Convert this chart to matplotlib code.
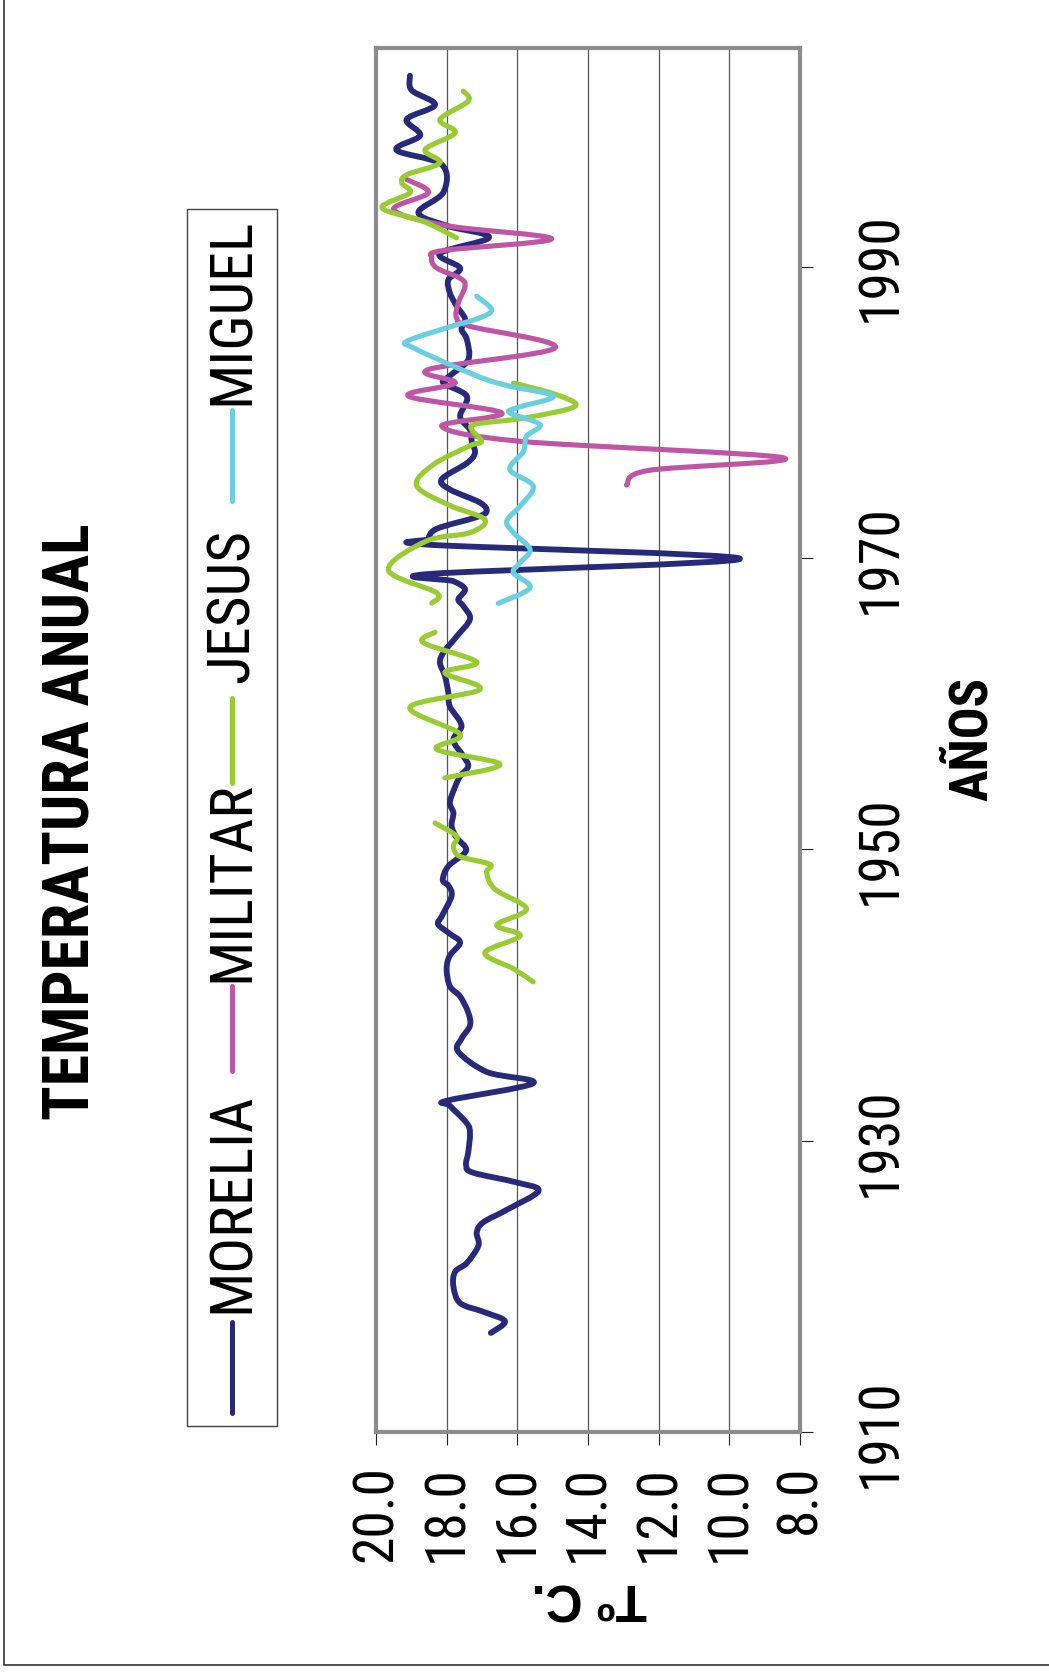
import sys
import numpy as np
import matplotlib
matplotlib.use("Agg")
import matplotlib.pyplot as plt
from matplotlib import font_manager
from matplotlib.font_manager import FontProperties
from matplotlib.path import Path
from matplotlib.patches import PathPatch, Rectangle
from matplotlib.lines import Line2D

# series: (year, temperature) read per station
morelia_year = [1916.8, 1917.6, 1918.25, 1918.85, 1920.0, 1921.0, 1921.6, 1922.8, 1923.7, 1924.4,
                1925.25, 1926.55, 1927.13, 1927.8, 1928.3, 1929.2, 1930.5, 1931.2, 1932.4, 1932.75,
                1933.94, 1934.7, 1936.1, 1937.0, 1937.9, 1938.8, 1939.9, 1940.6, 1941.8, 1942.7,
                1943.6, 1944.2, 1944.85, 1945.4, 1946.8, 1947.5, 1947.9, 1948.85, 1949.9, 1950.8,
                1951.6, 1952.5, 1953.2, 1954.3, 1955.0, 1955.7, 1956.4, 1957.5, 1958.5, 1959.8,
                1960.7, 1961.9, 1962.8, 1963.5, 1964.6, 1965.8, 1966.7, 1967.15, 1967.85, 1968.4,
                1968.9, 1969.94, 1970.9, 1971.3, 1972.0, 1972.8, 1973.2, 1973.8, 1974.7, 1975.4,
                1976.5, 1977.2, 1978.0, 1978.8, 1979.7, 1981.1, 1982.0, 1982.5, 1983.6, 1985.0,
                1985.7, 1986.4, 1987.3, 1988.2, 1989.1, 1989.9, 1990.9, 1992.0, 1992.8, 1993.7,
                1995.1, 1997.0, 1998.0, 1999.0, 2000.1, 2001.1, 2002.1, 2003.1]
morelia_temp = [16.75, 16.35, 16.96, 17.62, 17.81, 17.76, 17.43, 17.10, 17.15, 16.96,
                16.30, 15.40, 16.02, 17.25, 17.45, 17.39, 17.34, 17.43, 17.91, 17.98,
                15.55, 16.85, 17.67, 17.58, 17.34, 17.39, 17.62, 17.91, 18.00, 17.91,
                17.62, 17.91, 18.24, 18.14, 17.86, 17.95, 18.11, 17.95, 17.45, 17.72,
                17.86, 17.81, 17.91, 17.76, 17.62, 17.39, 17.53, 17.81, 17.58, 17.91,
                17.95, 18.05, 18.19, 18.09, 17.72, 17.34, 17.53, 17.67, 17.48, 17.81,
                18.47, 9.70, 18.47, 18.52, 18.28, 17.15, 16.87, 17.06, 17.91, 18.14,
                17.43, 17.20, 17.29, 17.34, 17.62, 17.43, 18.09, 17.91, 17.39, 17.43,
                17.58, 17.48, 17.72, 17.91, 17.95, 17.62, 18.19, 16.80, 18.00, 18.80,
                18.09, 18.14, 19.42, 18.75, 19.13, 18.33, 18.99, 19.04]

militar_year = [1975.0, 1976.0, 1976.87, 1978.0, 1979.04, 1979.95, 1981.1, 1982.0, 1982.93, 1984.42,
                1985.9, 1986.48, 1987.5, 1988.65, 1989.2, 1989.9, 1990.6, 1991.1, 1991.9, 1992.8,
                1993.9, 1995.06, 1995.97]
militar_temp = [12.91, 12.30, 8.47, 15.90, 18.14, 16.44, 19.08, 17.76, 18.52, 14.93,
                17.34, 17.72, 17.67, 17.48, 17.62, 18.28, 18.42, 18.10, 15.03, 18.00,
                19.50, 18.52, 19.13]

# Jesus has gaps, so it is kept as separate runs
jesus_year = [
    [1940.9, 1941.8, 1942.9, 1944.06, 1944.8, 1945.9, 1947.25, 1948.4, 1948.96, 1949.5,
     1950.2, 1950.9, 1951.8],
    [1954.9, 1955.83, 1956.86, 1957.89, 1959.75, 1960.97, 1962.12, 1962.85, 1964.18, 1964.9],
    [1966.9, 1967.6, 1969.17, 1971.16, 1971.73, 1972.64, 1973.6, 1974.95, 1976.4, 1977.7,
     1978.0, 1978.8, 1979.2, 1979.6, 1980.4, 1981.2, 1982.0],
    [1991.97, 1993.1, 1994.03, 1995.06, 1995.74, 1996.3, 1997.12, 1998.03, 1999.18, 2000.09,
     2001.35, 2002.04],
]
jesus_temp = [
    [15.55, 16.11, 16.92, 15.92, 16.58, 15.74, 16.63, 16.87, 16.77, 17.62,
     17.81, 17.72, 18.33],
    [18.05, 16.49, 18.28, 17.62, 19.04, 17.06, 18.05, 17.15, 18.66, 18.33],
    [18.42, 18.28, 19.65, 18.57, 17.34, 16.92, 17.91, 18.85, 18.38, 17.34,
     17.01, 17.29, 17.15, 15.80, 14.37, 14.89, 16.11],
    [17.72, 18.66, 19.83, 19.04, 19.27, 19.13, 18.19, 18.61, 17.76, 18.19,
     17.39, 17.53],
]

miguel_year = [1966.88, 1967.95, 1968.98, 1969.67, 1970.58, 1971.73, 1972.53, 1973.56, 1974.93, 1976.06,
               1977.3, 1978.35, 1979.15, 1979.95, 1980.3, 1981.1, 1981.78, 1982.24, 1983.16, 1984.42,
               1984.87, 1985.79, 1986.48, 1987.05, 1987.96]
miguel_temp = [16.54, 15.64, 16.11, 15.92, 15.64, 16.11, 16.30, 15.92, 15.55, 16.21,
               15.83, 15.74, 15.36, 16.21, 16.02, 14.98, 16.21, 16.87, 17.81, 18.94,
               19.13, 18.00, 17.06, 16.73, 17.15]

names = ["MORELIA", "MILITAR", "JESUS", "MIGUEL"]
colors = ["#262a78", "#bf55a5", "#99cc33", "#6ccfe0"]
temp_ticks = [20.0, 18.0, 16.0, 14.0, 12.0, 10.0, 8.0]
year_ticks = [1910, 1930, 1950, 1970, 1990]


def weight_num(w):
    if isinstance(w, str):
        return font_manager.weight_dict.get(w, 400)
    return w


def narrow_font(bold):
    # look for a condensed face; fall back to plain Liberation Sans
    prefer = ["Liberation Sans Narrow", "Arial Narrow", "Noto Sans", "Roboto Condensed",
              "Open Sans Condensed", "DejaVu Sans"]
    found = []
    for f in font_manager.fontManager.ttflist:
        squeezed = (f.stretch in ("condensed", "semi-condensed", "extra-condensed")
                    or "Narrow" in f.name or "Condensed" in f.name)
        if not squeezed or f.style != "normal":
            continue
        w = weight_num(f.weight)
        if bold and w < 600:
            continue
        if not bold and w > 500:
            continue
        rank = prefer.index(f.name) if f.name in prefer else len(prefer)
        found.append((rank, abs(w - (700 if bold else 400)), f.stretch != "condensed", f.fname, f.name))
    if found:
        found.sort()
        sys.stderr.write("narrow font: %s %s\n" % (found[0][4], found[0][3]))
        return found[0][3], 1.0
    sys.stderr.write("no narrow font\n")
    return None, 0.84


reg_file, reg_scale = narrow_font(False)
bold_file, bold_scale = narrow_font(True)


def fp(size, bold=False):
    f, k = (bold_file, bold_scale) if bold else (reg_file, reg_scale)
    if f:
        return FontProperties(fname=f, size=size)
    return FontProperties(family="Liberation Sans", weight="bold" if bold else "normal", size=size * k)


def smooth_path(x, y):
    # Catmull-Rom through the points, written as cubic Bezier segments
    pts = np.column_stack([x, y]).astype(float)
    n = len(pts)
    verts = [pts[0]]
    codes = [Path.MOVETO]
    for i in range(n - 1):
        p0 = pts[i - 1] if i > 0 else pts[i]
        p1 = pts[i]
        p2 = pts[i + 1]
        p3 = pts[i + 2] if i + 2 < n else p2
        verts += [p1 + (p2 - p0) / 6, p2 - (p3 - p1) / 6, p2]
        codes += [Path.CURVE4] * 3
    return Path(verts, codes)


def draw_series(ax, years, temps, color, lw):
    # temperature runs along x, years along y
    patch = PathPatch(smooth_path(temps, years), facecolor="none", edgecolor=color,
                      lw=lw, capstyle="round", joinstyle="round")
    ax.add_patch(patch)


W, H = 1049, 1674
fig = plt.figure(figsize=(W / 100, H / 100), dpi=100)
fig.patch.set_facecolor("white")

ax = fig.add_axes([376 / W, 1 - 1433 / H, 424 / W, 1384 / H])
ax.set_xlim(20, 8)
ax.set_ylim(1910, 2005)

for t in temp_ticks[1:-1]:
    ax.axvline(t, color="#555555", lw=0.9, zorder=1)

draw_series(ax, morelia_year, morelia_temp, colors[0], 4.2)
draw_series(ax, militar_year, militar_temp, colors[1], 3.7)
for yy, tt in zip(jesus_year, jesus_temp):
    draw_series(ax, yy, tt, colors[2], 3.7)
draw_series(ax, miguel_year, miguel_temp, colors[3], 3.7)

for s in ax.spines.values():
    s.set_color("#8c8c8c")
    s.set_linewidth(3)

ax.set_xticks(temp_ticks)
ax.set_xticklabels([f"{t:.1f}" for t in temp_ticks], rotation=90, ha="center", va="top",
                   fontproperties=fp(40))
ax.yaxis.tick_right()
ax.set_yticks(year_ticks)
ax.set_yticklabels([str(y) for y in year_ticks], rotation=90, ha="left", va="center",
                   fontproperties=fp(40))
ax.tick_params(axis="x", direction="out", length=9, width=0.8, color="#222222", pad=14)
ax.tick_params(axis="y", direction="out", length=9, width=0.8, color="#222222", pad=30)

# titles and axis names
fig.text(71 / W, 1 - 822 / H, "TEMPERATURA ANUAL", rotation=90, ha="center", va="center",
         fontproperties=fp(46, bold=True))
fig.text(972 / W, 1 - 739 / H, "AÑOS", rotation=90, ha="center", va="center",
         fontproperties=fp(38, bold=True))
fig.text(589 / W, 1 - 1597 / H, "Tº C.", rotation=180, ha="center", va="center",
         fontsize=37, fontweight="bold", family="Liberation Sans")

# legend, laid out along the left side
fig.add_artist(Rectangle((187 / W, 1 - 1427 / H), 90 / W, 1217 / H, transform=fig.transFigure,
                         facecolor="none", edgecolor="#444444", lw=1))
leg_line = [(1323, 1414), (987, 1072), (699, 784), (411, 502)]
leg_text = [1313, 982, 683, 405]
for name, c, (y0, y1), yt in zip(names, colors, leg_line, leg_text):
    fig.add_artist(Line2D([232 / W, 232 / W], [1 - y0 / H, 1 - y1 / H], transform=fig.transFigure,
                          color=c, lw=3.6, solid_capstyle="round"))
    fig.text(232 / W, 1 - yt / H, name, rotation=90, ha="center", va="bottom",
             fontproperties=fp(43))

# outer frame (left and bottom edges)
fig.add_artist(Line2D([4 / W, 4 / W, 1], [1, 1 - 1666 / H, 1 - 1666 / H], transform=fig.transFigure,
                      color="#333333", lw=1.2))

fig.savefig("out.png", dpi=100)
